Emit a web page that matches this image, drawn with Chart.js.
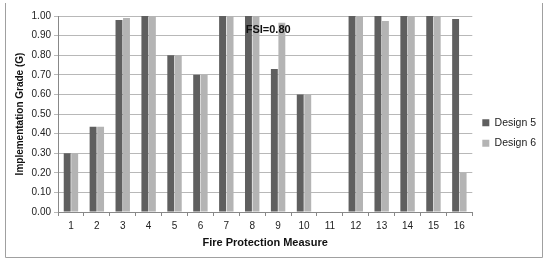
<!DOCTYPE html>
<html><head><meta charset="utf-8">
<script src="https://cdn.jsdelivr.net/npm/chart.js@4/dist/chart.umd.min.js"></script>
<style>html,body{margin:0;padding:0;background:#fff}canvas{display:block}</style>
</head><body>
<canvas id="c" width="550" height="264"></canvas>
<script>
const categories = ['1','2','3','4','5','6','7','8','9','10','11','12','13','14','15','16'];
const design5 = [0.30,0.435,0.98,1.00,0.80,0.70,1.00,1.00,0.73,0.60,0,1.00,1.00,1.00,1.00,0.985];
const design6 = [0.30,0.435,0.99,1.00,0.80,0.70,1.00,1.00,0.965,0.60,0,1.00,0.975,1.00,1.00,0.20];
const seriesNames = ['Design 5','Design 6'];
const annotationText = 'FSI=0.80';
const yTitle = 'Implementation Grade (G)';
const xTitle = 'Fire Protection Measure';

const FONT = "'Liberation Sans', Arial, sans-serif";

const framePlugin = {
  id: 'frame',
  beforeDraw(chart) {
    const ctx = chart.ctx;
    ctx.save();
    ctx.fillStyle = '#fff';
    ctx.fillRect(0,0,chart.width,chart.height);
    ctx.strokeStyle = '#a0a0a0';
    ctx.lineWidth = 1;
    ctx.beginPath();
    ctx.moveTo(5.5, 3); ctx.lineTo(5.5, 257.5); ctx.lineTo(542.5, 257.5); ctx.lineTo(542.5, 3);
    ctx.stroke();
    ctx.restore();
  },
  afterDatasetsDraw(chart) {
    const ctx = chart.ctx;
    const xs = chart.scales.x, ys = chart.scales.y;
    const px = (xs.getPixelForValue(7) + xs.getPixelForValue(8)) / 2 + 3;
    const py = ys.getPixelForValue(0.93);
    ctx.save();
    ctx.font = "bold 11px " + FONT;
    ctx.fillStyle = '#111';
    ctx.textAlign = 'center';
    ctx.textBaseline = 'middle';
    ctx.fillText(annotationText, px, py);
    ctx.restore();
  }
};

new Chart(document.getElementById('c'), {
  type: 'bar',
  data: {
    labels: categories,
    datasets: [
      { label: seriesNames[0], data: design5, backgroundColor: '#5f5f5f', borderWidth: 0 },
      { label: seriesNames[1], data: design6, backgroundColor: '#b4b4b4', borderWidth: 0 }
    ]
  },
  options: {
    responsive: false,
    animation: false,
    devicePixelRatio: 1,
    layout: { padding: { left: 14, top: 16, right: 4, bottom: 14 } },
    datasets: { bar: { categoryPercentage: 0.58, barPercentage: 0.92 } },
    plugins: {
      legend: {
        position: 'right',
        align: 'center',
        labels: { boxWidth: 7, boxHeight: 7, padding: 10, color: '#222', font: { family: FONT, size: 10.5 } }
      },
      tooltip: { enabled: false }
    },
    scales: {
      x: {
        grid: { display: true, drawOnChartArea: false, drawTicks: true, tickLength: 4, color: '#888', offset: true },
        border: { color: '#888' },
        ticks: { color: '#222', font: { family: FONT, size: 10 }, padding: 4, maxRotation: 0 },
        title: { display: true, text: xTitle, color: '#111', font: { family: FONT, size: 11, weight: 'bold' }, padding: { top: 4, bottom: 0 } },
        afterFit(s) { s.height = 38; }
      },
      y: {
        min: 0, max: 1,
        grid: { color: '#b8b8b8', tickLength: 4, drawTicks: true },
        border: { color: '#888' },
        ticks: { stepSize: 0.1, color: '#222', font: { family: FONT, size: 10 }, padding: 3,
          callback: v => Number(v).toFixed(2) },
        title: { display: true, text: yTitle, color: '#111', font: { family: FONT, size: 10, weight: 'bold' }, padding: { top: 0, bottom: 4 } },
        afterFit(s) { s.width = 44; }
      }
    }
  },
  plugins: [framePlugin]
});
</script>
</body></html>
